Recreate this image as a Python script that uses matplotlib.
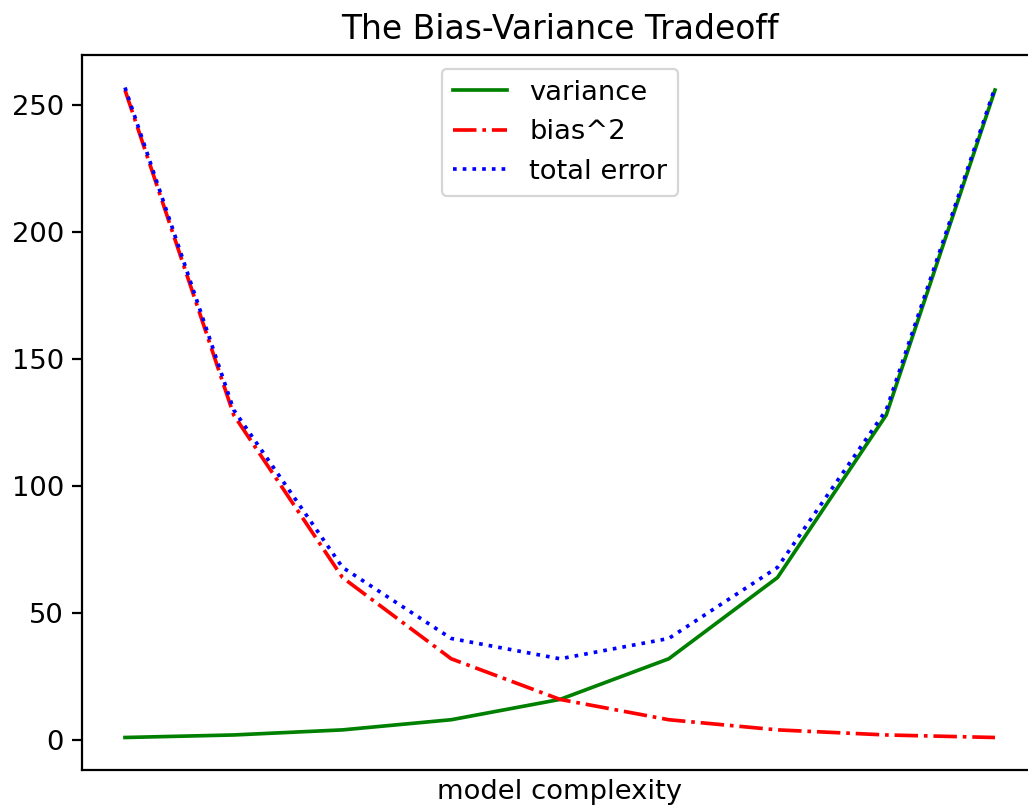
import matplotlib
matplotlib.use('Agg')
import matplotlib.pyplot as plt

# Data:
variance = [1, 2, 4, 8, 16, 32, 64, 128, 256]
bias_squared = [256, 128, 64, 32, 16, 8, 4, 2, 1]
total_error = [v + b for v, b in zip(variance, bias_squared)]
xs = list(range(len(variance)))

# Plotting:
fsize = 12.3
plt.rcParams['font.size'] = fsize
plt.rcParams['lines.linewidth'] = 1.65
plt.rcParams['axes.linewidth'] = 1.0
plt.rcParams['ytick.major.size'] = 4.3
plt.rcParams['ytick.major.width'] = 1.0

fig = plt.figure(figsize=(1028/160, 808/160), dpi=160)
ax = fig.add_axes([81.5/1028, 1 - 770/808, 957/1028, 715/808])

ax.plot(xs, variance, 'g-', label='variance')
ax.plot(xs, bias_squared, 'r-.', label='bias^2')
ax.plot(xs, total_error, 'b:', label='total error')

ax.legend(loc=9, fontsize=fsize)
ax.set_xlabel('model complexity', fontsize=fsize, labelpad=4)
ax.set_xticks([])
ax.set_title('The Bias-Variance Tradeoff', fontsize=14.8, pad=7)

fig.savefig('out.png', dpi=160)
